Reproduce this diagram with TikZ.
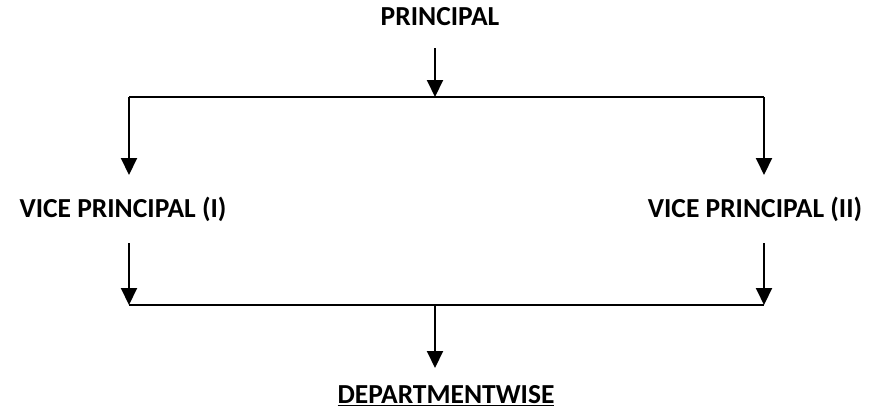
\documentclass[tikz,border=0pt]{standalone}
\usepackage{fontspec}
\setmainfont{Carlito}
\usetikzlibrary{arrows.meta}

\begin{document}
\begin{tikzpicture}[x=1pt,y=-1pt,
        post/.style={font=\bfseries\fontsize{27.5}{31}\selectfont,inner sep=0pt},
        link/.style={line width=2pt},
        arr/.style={link,-{Triangle[length=17pt,width=16pt]}}]
            \useasboundingbox (0,0) rectangle (869,416);
            \node[post](principal) at (440,17){PRINCIPAL};
            \node[post](vpone) at (123,209){VICE PRINCIPAL (I)};
            \node[post](vptwo) at (755,209){VICE PRINCIPAL (II)};
            \node[post](dept) at (446,396){\underline{DEPARTMENTWISE}};
            % junctions
            \coordinate (pout) at (435,48);
            \coordinate (top) at (435,97);
            \coordinate (topl) at (129,97);
            \coordinate (topr) at (764,97);
            \coordinate (vponein) at (129,175);
            \coordinate (vptwoin) at (764,175);
            \coordinate (vponeout) at (129,243);
            \coordinate (vptwoout) at (764,243);
            \coordinate (botl) at (129,305);
            \coordinate (botr) at (764,305);
            \coordinate (bot) at (435,305);
            \coordinate (deptin) at (435,368);
            \draw[arr](pout) -- (top);
            \draw[link](topl) -- (topr);
            \draw[arr](topl) -- (vponein);
            \draw[arr](topr) -- (vptwoin);
            \draw[arr](vponeout) -- (botl);
            \draw[arr](vptwoout) -- (botr);
            \draw[link](botl) -- (botr);
            \draw[arr](bot) -- (deptin);
        \end{tikzpicture}
\end{document}
